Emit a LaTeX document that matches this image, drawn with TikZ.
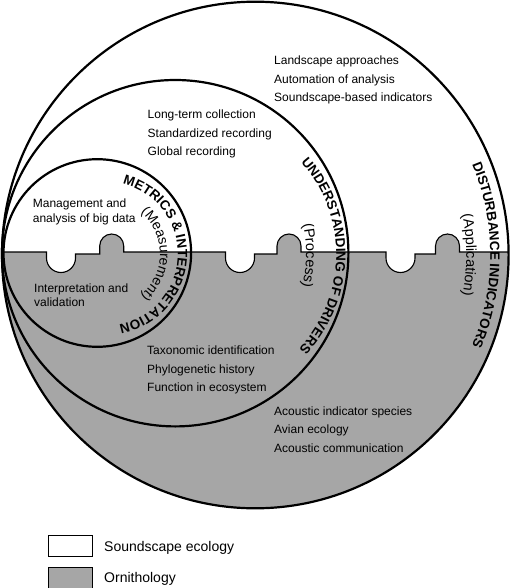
\documentclass[tikz,border=0pt]{standalone}
\usepackage{fontspec}
\setmainfont{Liberation Sans}
\definecolor{ornithology}{HTML}{A6A6A6}
\newcommand{\titlefont}{\bfseries\fontsize{13.5}{15}\selectfont}
\newcommand{\subtitlefont}{\fontsize{14.5}{16}\selectfont}

% letters set one by one round a ring, tops outward, read clockwise
% (advance widths of Liberation Sans, in 1/1000 em)
\newcommand{\ringlabel}[7]{% name, centre, radius, middle angle, font, size, letter/width list
  \gdef\ringtotal{0}%
  \foreach \ringchar/\ringwd in {#7} {%
    \pgfmathparse{\ringtotal+\ringwd/1000}\global\let\ringtotal\pgfmathresult}%
  \pgfmathparse{#4+deg(0.5*\ringtotal*#6/#3)}\global\let\ringangle\pgfmathresult
  \foreach \ringchar/\ringwd [count=\i] in {#7} {%
    \pgfmathsetmacro{\charangle}{\ringangle-deg(0.5*\ringwd/1000*#6/#3)}%
    \path (#2) ++(\charangle:#3) node[ringletter, rotate=\charangle-90] (#1-\i) {#5\ringchar};%
    \pgfmathparse{\ringangle-deg(\ringwd/1000*#6/#3)}\global\let\ringangle\pgfmathresult
  }%
}

\tikzset{
  ring/.style={draw=black, line width=2.2pt},
  divider/.style={draw=black, line width=1.1pt},
  ringletter/.style={anchor=base, inner sep=0pt, outer sep=0pt},
  item/.style={anchor=base west, align=left, inner sep=0pt, font=\fontsize{12}{18.5}\selectfont},
  pairitem/.style={item, font=\fontsize{12}{14.5}\selectfont},
  swatch/.style={draw=black, line width=1pt, minimum width=44pt, minimum height=21pt, inner sep=0pt, anchor=north west},
  legendtext/.style={anchor=base west, inner sep=0pt, font=\fontsize{14}{16}\selectfont},
}

\begin{document}
\begin{tikzpicture}[x=1pt, y=1pt]
  \useasboundingbox (0,0) rectangle (510,-588);

  % centres of the three rings
  \coordinate (outerc) at (255.3,-255);
  \coordinate (midc) at (175.2,-253.2);
  \coordinate (innerc) at (97.3,-253);
  % the titles of the two inner rings bend less than their rings
  \coordinate (driversc) at (198.2,-254.5);
  \coordinate (metricsc) at (105.5,-254);

  % lower half (ornithology) with puzzle edge
  \begin{scope}
    \clip (outerc) circle[radius=253.3];
    \draw[divider, fill=ornithology] (0,-252)
      -- (46.5,-252) -- (46.5,-258) arc[start angle=180, end angle=360, radius=14.5] -- (75.5,-254)
      -- (99.7,-254) -- (99.7,-246) arc[start angle=180, end angle=0, radius=12] -- (123.7,-252)
      -- (225.5,-252) -- (225.5,-258) arc[start angle=180, end angle=360, radius=14.5] -- (254.5,-254)
      -- (277,-254) -- (277,-246) arc[start angle=180, end angle=0, radius=12] -- (301,-252)
      -- (386,-252) -- (386,-258) arc[start angle=180, end angle=360, radius=14.5] -- (415,-254)
      -- (435.5,-254) -- (435.5,-246) arc[start angle=180, end angle=0, radius=12] -- (459.5,-252)
      -- (512,-252) -- (512,-515) -- (-2,-515) -- cycle;
  \end{scope}

  % rings
  \draw[ring] (outerc) circle[radius=253.3];
  \draw[ring] (midc) circle[radius=173.2];
  \draw[ring] (innerc) circle[radius=93.8];

  % ring titles
  \ringlabel{disturb}{outerc}{235}{0}{\titlefont}{13.5}{D/722,I/278,S/667,T/611,U/722,R/722,B/722,A/722,N/722,C/722,E/667,\ /278,I/278,N/722,D/722,I/278,C/722,A/722,T/611,O/778,R/722,S/667}
  \ringlabel{applic}{outerc}{211}{0}{\subtitlefont}{14.5}{{(}/333,A/667,p/556,p/556,l/222,i/222,c/500,a/556,t/278,i/222,o/556,n/556,{)}/333}
  \ringlabel{drivers}{driversc}{138}{-0.6}{\titlefont}{13.5}{U/722,N/722,D/722,E/667,R/722,S/667,T/611,A/722,N/722,D/722,I/278,N/722,G/778,\ /278,O/778,F/611,\ /278,D/722,R/722,I/278,V/667,E/667,R/722,S/667}
  \ringlabel{process}{midc}{131}{-1}{\subtitlefont}{14.5}{{(}/333,P/667,r/333,o/556,c/500,e/556,s/500,s/500,{)}/333}
  \ringlabel{metrics}{metricsc}{72.3}{-1.5}{\titlefont}{13.5}{M/833,E/667,T/611,R/722,I/278,C/722,S/667,\ /278,\&/722,\ /278,I/278,N/722,T/611,E/667,R/722,P/667,R/722,E/667,T/611,A/722,T/611,I/278,O/778,N/722}
  \ringlabel{measure}{metricsc}{54.5}{0}{\fontsize{14}{16}\selectfont}{14}{{(}/333,M/833,e/556,a/556,s/500,u/556,r/333,e/556,m/833,e/556,n/556,t/278,{)}/333}

  % soundscape ecology topics
  \node[item] (landscape) at (274,-102) {Landscape approaches\\Automation of analysis\\Soundscape-based indicators};
  \node[item] (longterm) at (147.5,-156) {Long-term collection\\Standardized recording\\Global recording};
  \node[pairitem] (bigdata) at (32.7,-222) {Management and\\analysis of big data};

  % ornithology topics
  \node[pairitem] (interpret) at (34,-306.5) {Interpretation and\\validation};
  \node[item] (taxonomy) at (147,-391.5) {Taxonomic identification\\Phylogenetic history\\Function in ecosystem};
  \node[item] (indicator) at (274,-452) {Acoustic indicator species\\Avian ecology\\Acoustic communication};

  % legend
  \node[swatch, fill=white] (soundbox) at (48,-535) {};
  \node[swatch, fill=ornithology] (ornibox) at (48,-566.5) {};
  \node[legendtext] (soundlabel) at (104,-551) {Soundscape ecology};
  \node[legendtext] (ornilabel) at (104,-582) {Ornithology};
\end{tikzpicture}
\end{document}
